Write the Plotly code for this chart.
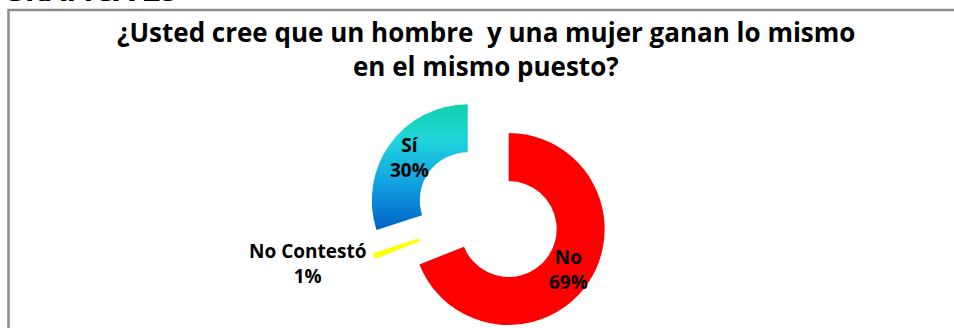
import math
import plotly.graph_objects as go

# Survey answers (percent of respondents)
labels = ["No", "No Contestó", "Sí"]
values = [69, 1, 30]
colors = ["#ff0000", "#ffff00", "#1fb0d8"]   # "Sí" gets a vertical gradient below

title_lines = ["¿Usted cree que un hombre  y una mujer ganan lo mismo",
               "en el mismo puesto?"]
caption = "GRÁFICA 25"

W, H = 954, 328
CX, CY = 488, 215     # ring centre in pixels (before slices are pulled out)
R = 96                # outer radius in pixels
HOLE = 0.5
EXPLODE = 25          # how far each slice is pulled away from the centre
FONT = "Open Sans"
LABEL_SIZE = 19

fig = go.Figure()
annotations = []
total = sum(values)
cum = 0
for i, (lab, val) in enumerate(zip(labels, values)):
    # each slice is its own trace so it can be pushed out along its bisector
    mid = 2 * math.pi * (cum + val / 2) / total
    cum += val
    ux, uy = math.sin(mid), -math.cos(mid)
    cx = CX + EXPLODE * ux
    cy = CY + EXPLODE * uy
    pct = round(100 * val / total)
    label_text = f"{lab}<br>{pct}%"
    fig.add_trace(go.Pie(
        labels=labels,
        values=values,
        sort=False,
        direction="clockwise",
        rotation=0,
        hole=HOLE,
        marker=dict(colors=[c if j == i else "rgba(0,0,0,0)" for j, c in enumerate(colors)],
                    line=dict(width=0)),
        textinfo="none",
        hoverinfo="skip",
        showlegend=False,
        domain=dict(x=[(cx - R) / W, (cx + R) / W],
                    y=[(H - (cy + R)) / H, (H - (cy - R)) / H]),
    ))
    label_font = dict(family=FONT, size=LABEL_SIZE, color="black", weight="bold")
    if lab == "No Contestó":
        # thin slice: label sits just outside its outer end
        ox, oy = cx + R * ux, cy + R * uy
        annotations.append(dict(
            text=label_text, xref="paper", yref="paper",
            x=(ox - 6) / W, y=(H - (oy + 8)) / H,
            xanchor="right", yanchor="middle", showarrow=False, font=label_font))
    else:
        # label sits in the middle of the ring, on the slice bisector
        rmid = R * (1 + HOLE) / 2
        annotations.append(dict(
            text=label_text, xref="paper", yref="paper",
            x=(cx + rmid * ux) / W, y=(H - (cy + rmid * uy)) / H,
            xanchor="center", yanchor="middle", showarrow=False, font=label_font))

# two-line heading
for line, base in zip(title_lines, [43, 77]):
    annotations.append(dict(
        text=line, xref="paper", yref="paper",
        x=486 / W, y=1 - (base + 9) / H, xanchor="center", yanchor="bottom",
        showarrow=False,
        font=dict(family=FONT, size=26, color="black", weight="bold")))

annotations.append(dict(
    text=caption, xref="paper", yref="paper",
    x=0, y=1 - 12.5 / H, xanchor="left", yanchor="bottom", showarrow=False,
    font=dict(family=FONT, size=31, color="black", weight="bold")))

fig.update_layout(
    width=W, height=H,
    margin=dict(l=0, r=0, t=0, b=0),
    paper_bgcolor="white",
    plot_bgcolor="white",
    shapes=[dict(type="rect", xref="paper", yref="paper",
                 x0=8.5 / W, x1=1.1, y0=-0.2, y1=1 - 10 / H,
                 line=dict(color="#8c8c8c", width=2.5), fillcolor="rgba(0,0,0,0)")],
    annotations=annotations,
)

# vertical teal-to-blue gradient for the "Sí" slice
post = """
var gd = document.getElementById('{plot_id}');
var ns = 'http://www.w3.org/2000/svg';
var svg = gd.querySelector('svg.main-svg');
var defs = svg.querySelector('defs');
if (!defs) { defs = document.createElementNS(ns, 'defs'); svg.insertBefore(defs, svg.firstChild); }
var lg = document.createElementNS(ns, 'linearGradient');
lg.setAttribute('id', 'siFill');
lg.setAttribute('x1', '0'); lg.setAttribute('y1', '0');
lg.setAttribute('x2', '0'); lg.setAttribute('y2', '1');
[['0', '#0fd2aa'], ['0.28', '#20d4dc'], ['0.6', '#12a6e2'], ['1', '#0062c6']].forEach(function (s) {
  var st = document.createElementNS(ns, 'stop');
  st.setAttribute('offset', s[0]);
  st.setAttribute('stop-color', s[1]);
  lg.appendChild(st);
});
defs.appendChild(lg);
gd.querySelectorAll('path.surface').forEach(function (p) {
  if (p.style.fill.replace(/\\s/g, '') === 'rgb(31,176,216)') { p.style.fill = 'url(#siFill)'; }
});
"""

fig.write_html("out.html", post_script=post)
